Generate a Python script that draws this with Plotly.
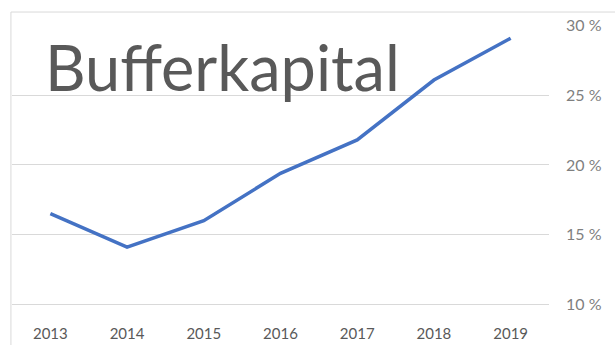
import plotly.graph_objects as go

years = ["2013", "2014", "2015", "2016", "2017", "2018", "2019"]
buffer_pct = [16.5, 14.1, 16.0, 19.4, 21.8, 26.1, 29.1]
y_ticks = [10, 15, 20, 25, 30]
y_tick_labels = ["10 %", "15 %", "20 %", "25 %", "30 %"]
title_text = "Bufferkapital"

fig = go.Figure(
    go.Scatter(
        x=years,
        y=buffer_pct,
        mode="lines",
        line=dict(color="#4472C4", width=3.5),
        hoverinfo="skip",
    )
)

fig.update_layout(
    width=615,
    height=345,
    margin=dict(l=12, r=66, t=25, b=38),
    paper_bgcolor="white",
    plot_bgcolor="white",
    showlegend=False,
    font=dict(family="Lato", color="#595959"),
    shapes=[
        # chart frame (top and left edges visible)
        dict(
            type="rect",
            xref="paper",
            yref="paper",
            x0=-0.002,
            x1=1.3,
            y0=-0.3,
            y1=1.046,
            line=dict(color="#d9d9d9", width=1),
            fillcolor="rgba(0,0,0,0)",
            layer="below",
        )
    ],
    annotations=[
        dict(
            text=title_text,
            xref="paper",
            yref="paper",
            x=0.058,
            y=0.853,
            xanchor="left",
            yanchor="middle",
            showarrow=False,
            font=dict(family="Lato", size=63, color="#595959"),
        )
    ],
)

fig.update_xaxes(
    type="category",
    range=[-0.5, len(years) - 0.5],
    automargin=False,
    showgrid=False,
    showline=False,
    zeroline=False,
    ticks="",
    ticklabelstandoff=16,
    tickfont=dict(family="Lato", size=15, color="#595959"),
)

fig.update_yaxes(
    side="right",
    range=[9.8, 30.05],
    automargin=False,
    tickvals=y_ticks,
    ticktext=y_tick_labels,
    showgrid=True,
    gridcolor="#d9d9d9",
    gridwidth=1,
    showline=False,
    zeroline=False,
    ticks="",
    ticklabelstandoff=16,
    tickfont=dict(family="Lato", size=16, color="#7f7f7f"),
)

fig.write_html("out.html")
